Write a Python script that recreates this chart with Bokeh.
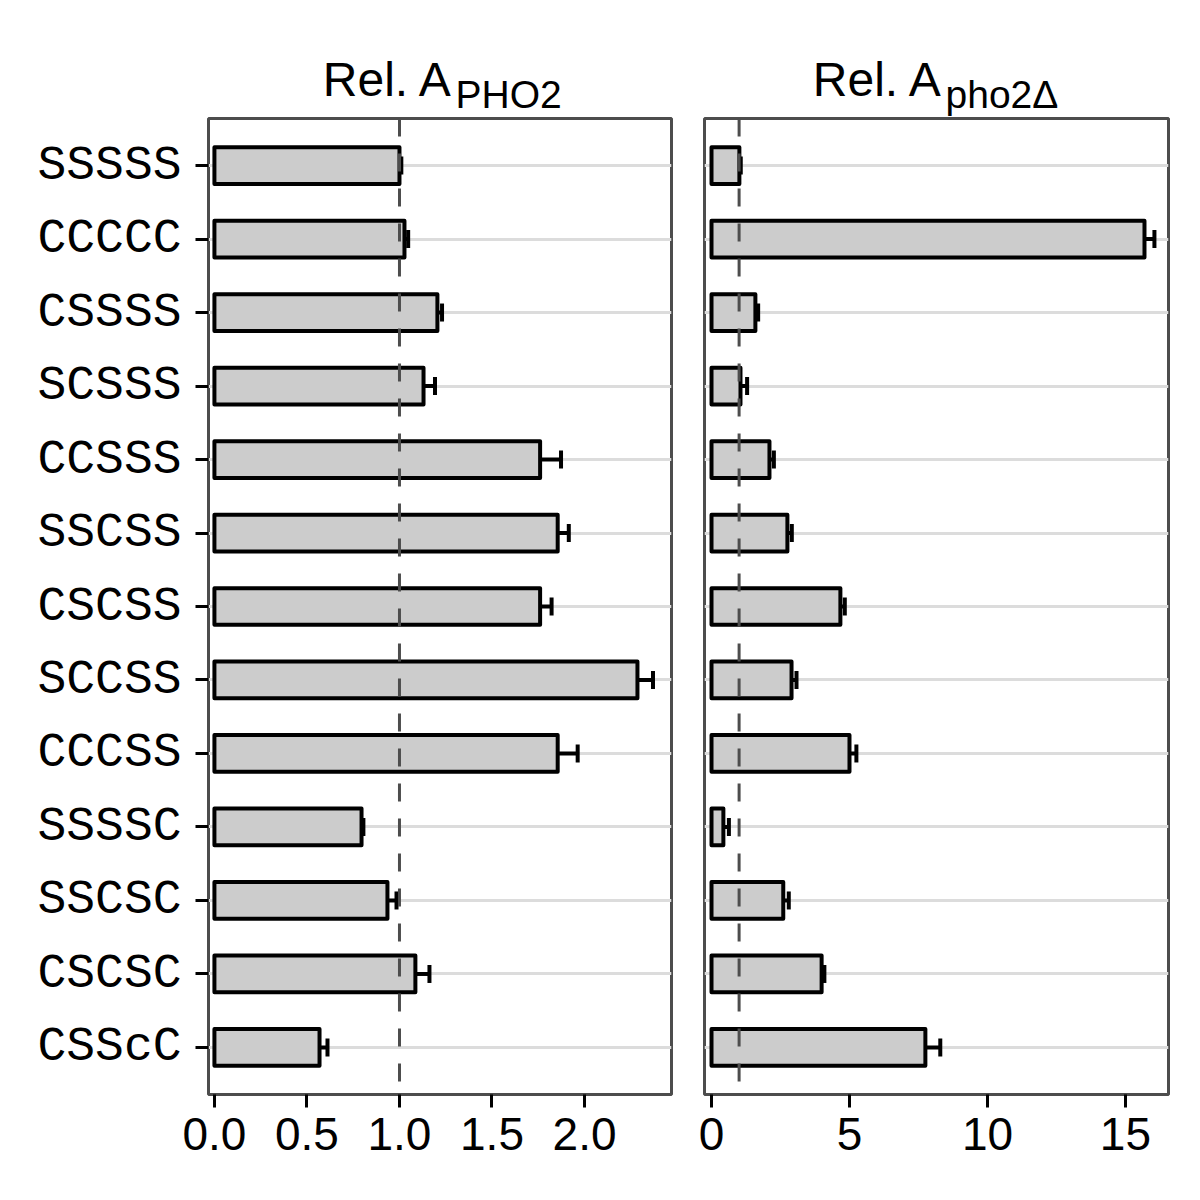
from bokeh.plotting import figure
from bokeh.layouts import row, column
from bokeh.models import (ColumnDataSource, FactorRange, Range1d, Span, Whisker, TeeHead,
                          FixedTicker, CustomJSTickFormatter, Label)
from bokeh.embed import file_html
from bokeh.resources import INLINE

categories = ["SSSSS", "CCCCC", "CSSSS", "SCSSS", "CCSSS", "SSCSS", "CSCSS",
              "SCCSS", "CCCSS", "SSSSC", "SSCSC", "CSCSC", "CSScC"]
rel_pho2 = [1.00, 1.027, 1.205, 1.13, 1.76, 1.855, 1.76, 2.286, 1.855, 0.795, 0.935, 1.086, 0.568]
err_pho2 = [0.01, 0.02, 0.025, 0.062, 0.113, 0.06, 0.062, 0.084, 0.108, 0.01, 0.049, 0.076, 0.043]
rel_pho2d = [1.01, 15.69, 1.59, 1.05, 2.1, 2.75, 4.67, 2.9, 5.0, 0.43, 2.6, 3.99, 7.75]
err_pho2d = [0.05, 0.36, 0.1, 0.24, 0.16, 0.16, 0.16, 0.18, 0.25, 0.2, 0.2, 0.1, 0.54]
ticks_left = [0.0, 0.5, 1.0, 1.5, 2.0]
ticks_right = [0, 5, 10, 15]
title_main = ["Rel. A", "Rel. A"]
title_sub = ["PHO2", "pho2Δ"]

FRAME_C = "#4d4d4d"
FONT = "Liberation Sans"
TOP = 116


def make_panel(vals, errs, xr, ticks, fmt, width, mbl, mbr, show_y):
    src = ColumnDataSource(dict(y=categories, v=vals,
                                lo=[a - b for a, b in zip(vals, errs)],
                                hi=[a + b for a, b in zip(vals, errs)]))
    yr = FactorRange(factors=list(reversed(categories)), range_padding=0.14,
                     range_padding_units="absolute")
    p = figure(width=width, height=1200 - TOP, y_range=yr, x_range=xr,
               output_backend="svg", toolbar_location=None,
               min_border_left=mbl, min_border_right=mbr,
               min_border_top=2, min_border_bottom=106)
    p.background_fill_color = "white"
    p.border_fill_color = "white"
    p.outline_line_color = FRAME_C
    p.outline_line_width = 3
    p.xgrid.grid_line_color = None
    p.ygrid.grid_line_color = "#dcdcdc"
    p.ygrid.grid_line_width = 3

    p.hbar(y="y", left=0, right="v", height=0.5, source=src,
           fill_color="#cccccc", line_color="black", line_width=4, line_join="round")
    p.add_layout(Span(location=1, dimension="height", line_color=FRAME_C,
                      line_width=3, line_dash="18 17"))
    w = Whisker(source=src, base="y", lower="lo", upper="hi", dimension="width",
                line_color="black", line_width=4,
                upper_head=TeeHead(size=18, line_width=4, line_color="black"),
                lower_head=TeeHead(size=18, line_width=4, line_color="black"))
    p.add_layout(w)

    xa = p.xaxis[0]
    xa.ticker = FixedTicker(ticks=ticks)
    xa.axis_line_color = None
    xa.major_tick_line_color = "black"
    xa.major_tick_line_width = 3
    xa.major_tick_out = 13
    xa.major_tick_in = 0
    xa.minor_tick_line_color = None
    xa.major_label_text_font = FONT
    xa.major_label_text_font_size = "46px"
    xa.major_label_text_color = "black"
    xa.major_label_standoff = 10
    xa.formatter = CustomJSTickFormatter(code=fmt)

    ya = p.yaxis[0]
    if show_y:
        ya.axis_line_color = None
        ya.major_tick_line_color = "black"
        ya.major_tick_line_width = 3
        ya.major_tick_out = 13
        ya.major_tick_in = 0
        ya.major_label_text_font = "Liberation Mono"
        ya.major_label_text_font_size = "48px"
        ya.major_label_text_color = "black"
        ya.major_label_standoff = 14
    else:
        ya.visible = False
    return p


p1 = make_panel(rel_pho2, err_pho2, Range1d(-0.032, 2.47), ticks_left,
                "return tick.toFixed(1);", 688, 208, 17, True)
p2 = make_panel(rel_pho2d, err_pho2d, Range1d(-0.254, 16.56), ticks_right,
                "return tick.toFixed(0);", 512, 16, 32, False)

# title strip (positions in canvas pixels)
t = figure(width=1200, height=TOP, x_range=Range1d(0, 1200), y_range=Range1d(TOP, 0),
           output_backend="svg", toolbar_location=None, min_border=0)
t.axis.visible = False
t.grid.visible = False
t.outline_line_color = None
t.background_fill_color = "white"
t.border_fill_color = "white"
for xm, main, sub in zip([453, 943], title_main, title_sub):
    t.add_layout(Label(x=xm, y=79, text=main, text_font=FONT, text_font_size="48px",
                       text_align="right", text_baseline="alphabetic", text_color="black"))
    t.add_layout(Label(x=xm + 2, y=94, text=sub, text_font=FONT, text_font_size="39px",
                       text_align="left", text_baseline="alphabetic", text_color="black"))

layout = column(t, row(p1, p2))
open("out.html", "w").write(file_html(layout, INLINE))
